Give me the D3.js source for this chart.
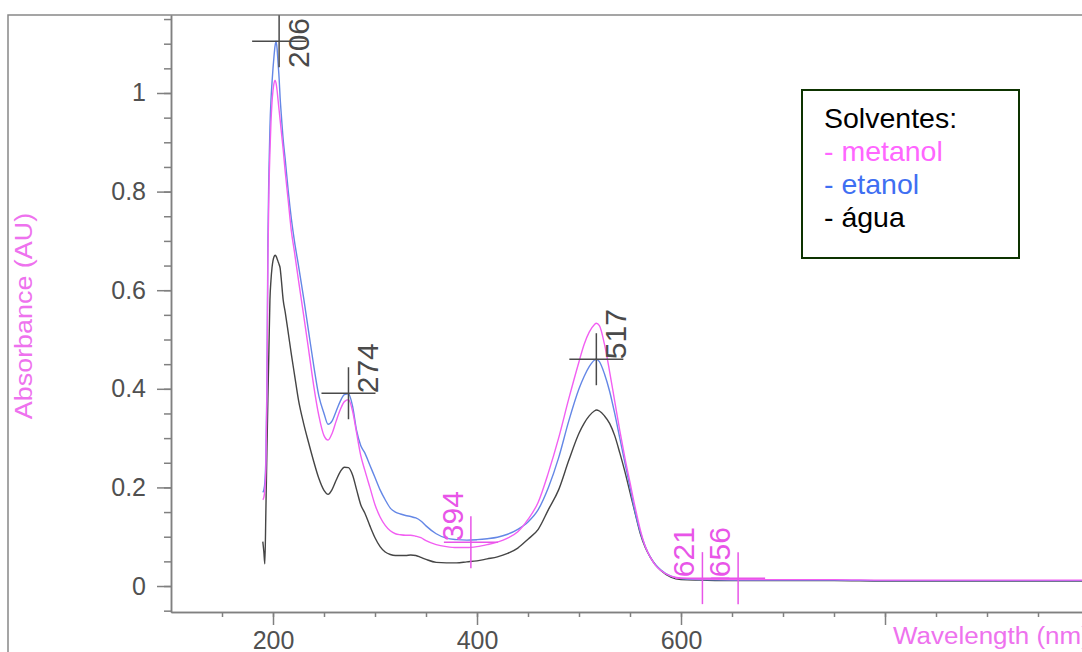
<!DOCTYPE html>
<html>
<head>
<meta charset="utf-8">
<script src="https://d3js.org/d3.v7.min.js"></script>
<style>
    body { margin: 0; background: #fff; }
    svg { display: block; }
    text { font-family: "Liberation Sans", Arial, sans-serif; }
</style>
</head>
<body>
<svg id="chart" width="1082" height="652"></svg>
<script>

//values (nm / AU)
var wavelengths = [190,191,192,193,194,195,196,197,198,199,
    200,201,202,203,204,205,206,207,208,
    210,212,215,218,221,225,
    230,235,240,245,250,
    254,258,262,266,270,274,278,282,286,290,
    295,300,305,310,315,320,325,330,335,340,345,350,
    360,370,380,390,400,410,420,430,440,450,460,470,480,490,500,
    505,510,515,517,520,525,530,535,540,545,550,555,560,565,570,575,580,
    590,600,620,650,700,750,800,850,900,950,1000];

var metanol = [0.175,0.18,0.195,0.24,0.38,0.66,0.80,0.88,0.94,0.98,
    1.005,1.02,1.026,1.02,1.005,0.985,0.965,0.945,0.925,
    0.885,0.84,0.78,0.72,0.678,0.62,
    0.55,0.478,0.405,0.345,0.305,
    0.296,0.31,0.335,0.358,0.374,0.378,0.355,0.31,0.265,0.235,
    0.20,0.165,0.14,0.123,0.112,0.106,0.104,0.103,0.103,0.101,0.098,0.092,
    0.084,0.08,0.078,0.078,0.08,0.084,0.089,0.097,0.11,0.135,0.17,0.23,0.30,0.38,0.455,
    0.49,0.515,0.53,0.533,0.528,0.49,0.435,0.375,0.315,0.26,0.21,0.16,0.115,0.08,0.058,0.042,0.032,
    0.02,0.016,0.014,0.013,0.013,0.013,0.012,0.012,0.012,0.012,0.012];

var etanol = [0.19,0.195,0.21,0.26,0.40,0.70,0.84,0.93,0.985,1.02,
    1.05,1.075,1.095,1.105,1.09,1.06,1.03,0.99,0.96,
    0.905,0.865,0.80,0.745,0.70,0.65,
    0.585,0.515,0.446,0.385,0.35,
    0.328,0.335,0.355,0.375,0.388,0.39,0.365,0.315,0.285,0.27,
    0.245,0.22,0.195,0.175,0.158,0.15,0.146,0.143,0.141,0.138,0.132,0.122,
    0.106,0.097,0.094,0.093,0.094,0.096,0.099,0.105,0.115,0.13,0.155,0.20,0.26,0.335,0.40,
    0.425,0.445,0.458,0.46,0.455,0.43,0.395,0.35,0.30,0.25,0.20,0.15,0.11,0.08,0.058,0.043,0.033,
    0.02,0.015,0.013,0.012,0.012,0.012,0.011,0.011,0.011,0.011,0.011];

var agua = [0.09,0.07,0.045,0.15,0.27,0.38,0.48,0.58,0.62,0.645,
    0.66,0.668,0.671,0.669,0.664,0.658,0.652,0.645,0.625,
    0.58,0.555,0.513,0.47,0.43,0.377,
    0.33,0.29,0.252,0.218,0.194,
    0.186,0.196,0.215,0.232,0.241,0.24,0.225,0.195,0.165,0.148,
    0.122,0.098,0.08,0.069,0.064,0.062,0.062,0.062,0.063,0.062,0.058,0.054,
    0.048,0.047,0.047,0.049,0.051,0.055,0.059,0.066,0.077,0.095,0.115,0.155,0.195,0.255,0.31,
    0.33,0.345,0.355,0.357,0.355,0.345,0.33,0.305,0.27,0.232,0.19,0.148,0.107,0.078,0.058,0.043,0.032,
    0.018,0.013,0.012,0.011,0.011,0.011,0.01,0.01,0.01,0.01,0.01];

//peak picks printed by the instrument
var peak_marks = [206, 274, 517];
var peak_values = [1.105, 0.391, 0.46];
var valley_marks = [394, 621, 656];
var valley_values = [0.089, 0.016, 0.016];

//ticks
var x_major_ticks = [200, 400, 600, 800];
var x_tick_labels = ["200", "400", "600", ""];
var y_major_ticks = [0, 0.2, 0.4, 0.6, 0.8, 1];
var y_tick_labels = ["0", "0.2", "0.4", "0.6", "0.8", "1"];

var legend_title = "Solventes:";
var legend_labels = ["- metanol", "- etanol", "- água"];


function spectrum_chart() {
    //REUSABLE uv-vis spectrum plot

    var width = 0,
        height = 0,
        plot_left = 171,
        plot_top = 15,
        plot_bottom = 612,
        axis_colour = "#808080",
        tick_colour = "#505050",
        title_colour = "#ee72ee",
        pick_colour = "#e855e8",
        line_colours = {metanol: "#f25ff2", etanol: "#6487e6", agua: "#454545"};

    function my(svg) {

        //scales - scan runs 100..1000 nm, picture is cropped at right edge
        var x_scale = d3.scaleLinear().domain([100, 1000]).range([plot_left, plot_left + 918]);
        var y_scale = d3.scaleLinear().domain([-0.0527, 1.1582]).range([plot_bottom, plot_top]);

        //outer frame of the printout (left + top only)
        svg.append("path")
            .attr("d", "M8," + height + "V" + plot_top + "H" + width)
            .attr("fill", "none")
            .attr("stroke", "#888")
            .attr("stroke-width", 1.5);

        //clip for the curves
        svg.append("defs").append("clipPath")
            .attr("id", "clip")
            .append("rect")
            .attr("x", plot_left)
            .attr("y", plot_top)
            .attr("width", width - plot_left)
            .attr("height", plot_bottom - plot_top);

        //axes - minor first, then major with labels
        var x_minor = d3.range(150, 1001, 50);
        var y_minor = d3.range(-1, 24).map(function(i) { return i * 0.05; });

        var x_axis_g = svg.append("g").attr("class", "axis axis--x")
            .attr("transform", "translate(0," + plot_bottom + ")");
        x_axis_g.append("g").call(d3.axisBottom(x_scale).tickValues(x_minor).tickSize(5).tickSizeOuter(0).tickFormat(""));
        x_axis_g.append("g").call(d3.axisBottom(x_scale).tickValues(x_major_ticks).tickSize(13).tickSizeOuter(0).tickPadding(6)
            .tickFormat(function(d, i) { return x_tick_labels[i]; }));

        var y_axis_g = svg.append("g").attr("class", "axis axis--y")
            .attr("transform", "translate(" + plot_left + ",0)");
        y_axis_g.append("g").call(d3.axisLeft(y_scale).tickValues(y_minor).tickSize(7).tickSizeOuter(0).tickFormat(""));
        y_axis_g.append("g").call(d3.axisLeft(y_scale).tickValues(y_major_ticks).tickSize(14).tickSizeOuter(0).tickPadding(11)
            .tickFormat(function(d, i) { return y_tick_labels[i]; }));

        svg.selectAll(".axis path, .axis line")
            .attr("stroke", axis_colour)
            .attr("stroke-width", 1.5);
        svg.selectAll(".axis text")
            .attr("fill", tick_colour)
            .style("font-size", "25px");

        //axis titles (the instrument font is wide, so stretch a bit)
        svg.append("text")
            .attr("transform", "translate(32," + 316 + ") rotate(-90) scale(1.17,1)")
            .attr("text-anchor", "middle")
            .attr("fill", title_colour)
            .style("font-size", "23px")
            .text("Absorbance (AU)");

        svg.append("text")
            .attr("transform", "translate(893,644) scale(1.13,1)")
            .attr("fill", title_colour)
            .style("font-size", "23px")
            .text("Wavelength (nm)");

        //the three spectra
        var line = d3.line()
            .x(function(d) { return x_scale(d[0]); })
            .y(function(d) { return y_scale(d[1]); })
            .curve(d3.curveMonotoneX);

        var curves = [
            {name: "agua", values: agua},
            {name: "etanol", values: etanol},
            {name: "metanol", values: metanol}
        ];

        svg.append("g").attr("class", "curves").attr("clip-path", "url(#clip)")
            .selectAll(".spectrum")
            .data(curves)
            .enter().append("path")
            .attr("class", "spectrum")
            .attr("d", function(c) { return line(wavelengths.map(function(w, i) { return [w, c.values[i]]; })); })
            .attr("fill", "none")
            .attr("stroke", function(c) { return line_colours[c.name]; })
            .attr("stroke-width", 1.4);

        //peak picks: crosshair + rotated label
        var marks = svg.append("g").attr("class", "marks");
        peak_marks.forEach(function(w, i) {
            draw_mark(marks, w, peak_values[i], "#4a4a4a", "right");
        });
        valley_marks.forEach(function(w, i) {
            draw_mark(marks, w, valley_values[i], pick_colour, "left");
        });

        function draw_mark(g, w, v, colour, side) {
            var cx = x_scale(w),
                cy = y_scale(v);

            g.append("line")
                .attr("x1", cx - 27).attr("x2", cx + 27)
                .attr("y1", cy).attr("y2", cy)
                .attr("stroke", colour).attr("stroke-width", 1.5);
            g.append("line")
                .attr("x1", cx).attr("x2", cx)
                .attr("y1", cy - 26).attr("y2", cy + 26)
                .attr("stroke", colour).attr("stroke-width", 1.5);

            //labels read upwards, dark ones right of the line, pink ones left
            var tx = side === "right" ? cx + 30 : cx - 8;
            var ty = side === "right" ? Math.max(cy, plot_top + 53) : cy - 1;

            g.append("text")
                .attr("transform", "translate(" + tx + "," + ty + ") rotate(-90)")
                .attr("fill", colour)
                .style("font-size", "30px")
                .text(w);
        }

        //legend box
        var legend = svg.append("g").attr("class", "legend")
            .attr("transform", "translate(802,90)");

        legend.append("rect")
            .attr("width", 217)
            .attr("height", 168)
            .attr("fill", "#fff")
            .attr("stroke", "#0d3300")
            .attr("stroke-width", 2);

        legend.append("text")
            .attr("x", 22).attr("y", 38)
            .attr("fill", "#000")
            .style("font-size", "28.5px")
            .text(legend_title);

        var legend_colours = ["#ff66ff", "#3f6ff2", "#000"];
        legend.selectAll(".legend_item")
            .data(legend_labels)
            .enter().append("text")
            .attr("class", "legend_item")
            .attr("x", 22)
            .attr("y", function(d, i) { return 71 + i * 33; })
            .attr("fill", function(d, i) { return legend_colours[i]; })
            .style("font-size", "28.5px")
            .text(function(d) { return d; });
    }

    my.width = function(value) {
        if (!arguments.length) return width;
        width = value;
        return my;
    };

    my.height = function(value) {
        if (!arguments.length) return height;
        height = value;
        return my;
    };

    return my;
}

var svg = d3.select("#chart");
var chart = spectrum_chart().width(+svg.attr("width")).height(+svg.attr("height"));
chart(svg);

</script>
</body>
</html>
